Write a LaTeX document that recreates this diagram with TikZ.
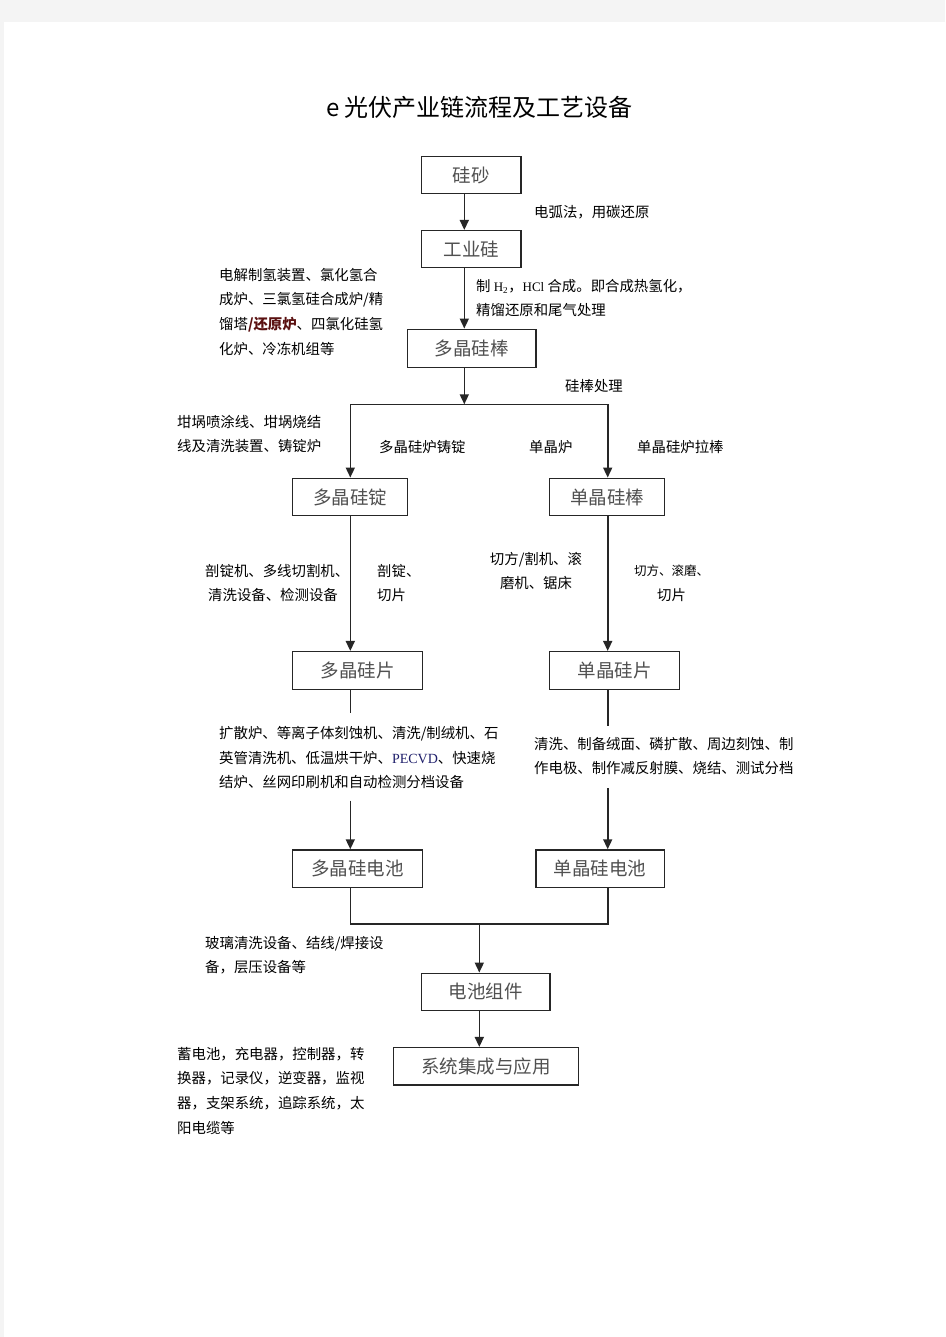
\documentclass[tikz,border=0pt]{standalone}
\usepackage{fontspec}
\setmainfont{Noto Sans CJK SC}
\newfontfamily\tnr{Liberation Serif}
\usetikzlibrary{arrows.meta,calc}
\definecolor{pagegray}{HTML}{F4F4F4}
\definecolor{linecol}{HTML}{262626}
\definecolor{boxtext}{HTML}{505050}
\definecolor{pecvd}{HTML}{1F1F6B}
\definecolor{redbold}{HTML}{5A1010}
\begin{document}
\begin{tikzpicture}[x=1pt,y=-1pt,
  box/.style={draw=linecol, line width=1.5pt, inner sep=0pt, font=\fontsize{18.5}{20}\selectfont, text=boxtext},
  lbl/.style={inner sep=0pt, anchor=north west, align=left, font=\fontsize{14.4}{24.6}\selectfont},
  conn/.style={draw=linecol, line width=1.6pt},
  arr/.style={conn, -{Triangle[width=9pt,length=10pt]}}]
\fill[pagegray] (0,0) rectangle (945,1337);
\fill[white] (4,22) rectangle (945,1337);
\useasboundingbox (0,0) rectangle (945,1337);

\node[font=\fontsize{24}{26}\selectfont] (title) at (479.5,107) {e 光伏产业链流程及工艺设备};

% boxes
\node[box, minimum width=99.3pt, minimum height=37pt] (sand) at (471.35,175.2) {硅砂};
\node[box, minimum width=99.3pt, minimum height=37pt] (ind) at (471.35,249.2) {工业硅};
\node[box, minimum width=128.7pt, minimum height=38pt] (polyrod) at (471.65,348.3) {多晶硅棒};
\node[box, minimum width=114.6pt, minimum height=37.4pt] (polyingot) at (350,497) {多晶硅锭};
\node[box, minimum width=114.6pt, minimum height=37.4pt] (monorod) at (607,497) {单晶硅棒};
\node[box, minimum width=129.6pt, minimum height=37.6pt] (polywafer) at (357.5,670.5) {多晶硅片};
\node[box, minimum width=129.6pt, minimum height=37.6pt] (monowafer) at (614.5,670.5) {单晶硅片};
\node[box, minimum width=129.6pt, minimum height=37.3pt] (polycell) at (357.5,868.65) {多晶硅电池};
\node[box, minimum width=128.3pt, minimum height=37.3pt] (monocell) at (600.15,868.65) {单晶硅电池};
\node[box, minimum width=128.3pt, minimum height=37pt] (module) at (485.85,991.8) {电池组件};
\node[box, minimum width=185pt, minimum height=37.3pt] (system) at (485.8,1066.35) {系统集成与应用};

% lanes
\coordinate (xM) at (464.3,0);
\coordinate (xL) at (350.3,0);
\coordinate (xR) at (607.7,0);
\coordinate (split) at (464.3,404.3);
\coordinate (gapL1) at (350.3,713);
\coordinate (gapL2) at (350.3,800.7);
\coordinate (gapR1) at (607.7,726);
\coordinate (gapR2) at (607.7,788.3);
\coordinate (merge) at (479.3,924);

% connectors
\draw[arr] (sand.south -| xM) -- (ind.north -| xM);
\draw[arr] (ind.south -| xM) -- (polyrod.north -| xM);
\draw[arr] (polyrod.south -| split) -- (split);
\draw[arr] (split) -| (polyingot.north -| xL);
\draw[arr] (split) -| (monorod.north -| xR);
\draw[arr] (polyingot.south -| xL) -- (polywafer.north -| xL);
\draw[arr] (monorod.south -| xR) -- (monowafer.north -| xR);
\draw[conn] (polywafer.south -| xL) -- (gapL1);
\draw[arr] (gapL2) -- (polycell.north -| xL);
\draw[conn] (monowafer.south -| xR) -- (gapR1);
\draw[arr] (gapR2) -- (monocell.north -| xR);
\draw[conn] (polycell.south -| xL) |- (merge) -| (monocell.south -| xR);
\draw[arr] (merge) -- (module.north -| merge);
\draw[arr] (module.south -| merge) -- (system.north -| merge);

% labels
\node[lbl] (t1) at (534,205) {电弧法，用碳还原};
\node[lbl] (t2) at (476,279) {制 {\tnr\fontsize{13}{14}\selectfont H\textsubscript{2}}，{\tnr\fontsize{13}{14}\selectfont HCl} 合成。即合成热氢化，\\精馏还原和尾气处理};
\node[lbl] (t3) at (219,268) {电解制氢装置、氯化氢合\\成炉、三氯氢硅合成炉/精\\馏塔{\color{redbold}\bfseries /还原炉}、四氯化硅氢\\化炉、冷冻机组等};
\node[lbl] (t4) at (565,378.7) {硅棒处理};
\node[lbl] (t5) at (177,415) {坩埚喷涂线、坩埚烧结\\线及清洗装置、铸锭炉};
\node[lbl] (t6) at (379,440) {多晶硅炉铸锭};
\node[lbl] (t7) at (529,440) {单晶炉};
\node[lbl] (t8) at (637,440) {单晶硅炉拉棒};
\node[lbl] (t9) at (205,564) {剖锭机、多线切割机、\\\hspace{3pt}清洗设备、检测设备};
\node[lbl] (t10) at (377,564) {剖锭、\\切片};
\node[lbl, anchor=north, align=center] (t11) at (536,552) {切方/割机、滚\\磨机、锯床};
\node[lbl, anchor=north, align=center] (t12) at (671.5,565) {{\fontsize{12.5}{24.6}\selectfont 切方、滚磨、}\\切片};
\node[lbl] (t13) at (219,726) {扩散炉、等离子体刻蚀机、清洗/制绒机、石\\英管清洗机、低温烘干炉、{\tnr\fontsize{14}{16}\selectfont\color{pecvd}PECVD}、快速烧\\结炉、丝网印刷机和自动检测分档设备};
\node[lbl] (t14) at (534,737) {清洗、制备绒面、磷扩散、周边刻蚀、制\\作电极、制作减反射膜、烧结、测试分档};
\node[lbl] (t15) at (205,936) {玻璃清洗设备、结线/焊接设\\备，层压设备等};
\node[lbl] (t16) at (177,1047) {蓄电池，充电器，控制器，转\\换器，记录仪，逆变器，监视\\器，支架系统，追踪系统，太\\阳电缆等};
\end{tikzpicture}
\end{document}
